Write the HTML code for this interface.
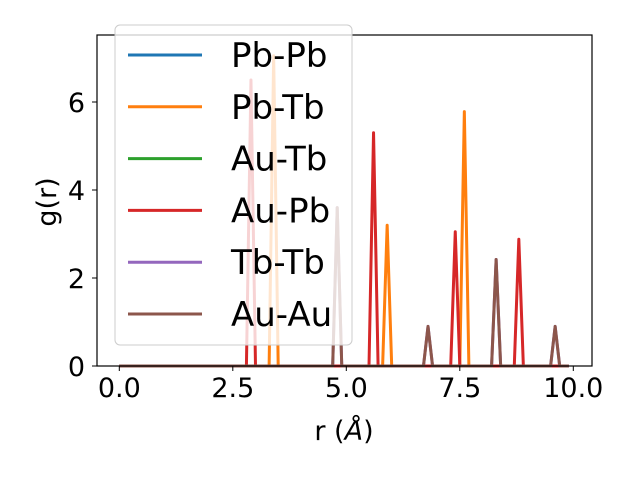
<!DOCTYPE html>
<html><head><meta charset="utf-8"><style>
body{margin:0;background:#fff}
svg{font-family:"DejaVu Sans","Liberation Sans",sans-serif}
</style></head><body>
<svg id="c" width="640" height="480" xmlns="http://www.w3.org/2000/svg"></svg>
<script>
const seriesNames=["Pb-Pb","Pb-Tb","Au-Tb","Au-Pb","Tb-Tb","Au-Au"];
const seriesColors=["#1f77b4","#ff7f0e","#2ca02c","#d62728","#9467bd","#8c564b"];
const peakR_PbPb=[],peakG_PbPb=[];
const peakR_PbTb=[3.4,5.9,7.6],peakG_PbTb=[7.05,3.2,5.78];
const peakR_AuTb=[],peakG_AuTb=[];
const peakR_AuPb=[2.9,5.6,7.4,8.8],peakG_AuPb=[6.5,5.3,3.05,2.88];
const peakR_TbTb=[4.8,6.8,8.3,9.6],peakG_TbTb=[3.6,0.9,2.42,0.9];
const peakR_AuAu=[4.8,6.8,8.3,9.6],peakG_AuAu=[3.6,0.9,2.42,0.9];
const xTicks=[0,2.5,5,7.5,10],xTickLabels=["0.0","2.5","5.0","7.5","10.0"];
const yTicks=[0,2,4,6],yTickLabels=["0","2","4","6"];
const rMin=0,rMax=9.9,rStep=0.1;

const L=97,R=592,T=35,B=366;
const X=r=>119.3+(r-0)*(573.3-119.3)/10;
const Y=g=>366-g*(366-102)/6;
const NS="http://www.w3.org/2000/svg";
const svg=document.getElementById('c');
function mk(t,a,p){const e=document.createElementNS(NS,t);for(const k in a)e.setAttribute(k,a[k]);(p||svg).appendChild(e);return e;}

const peaks=[[peakR_PbPb,peakG_PbPb],[peakR_PbTb,peakG_PbTb],[peakR_AuTb,peakG_AuTb],[peakR_AuPb,peakG_AuPb],[peakR_TbTb,peakG_TbTb],[peakR_AuAu,peakG_AuAu]];
const n=Math.round((rMax-rMin)/rStep);
peaks.forEach((pk,si)=>{
  const pts=[];
  for(let i=0;i<=n;i++){
    const r=rMin+i*rStep;let g=0;
    pk[0].forEach((pr,j)=>{if(Math.abs(pr-r)<1e-6)g=pk[1][j];});
    pts.push(X(r).toFixed(2)+","+Y(g).toFixed(2));
  }
  const pl=mk('polyline',{points:pts.join(" "),fill:"none",stroke:seriesColors[si],"stroke-width":3,"stroke-linejoin":"round"});
  
  
});

const frame=mk('rect',{x:L,y:T,width:R-L,height:B-T,fill:"none",stroke:"#000","stroke-width":1.2});



xTicks.forEach((v,i)=>{
  const x=X(v);
  const tk=mk('line',{x1:x,x2:x,y1:B,y2:B+5,stroke:"#000","stroke-width":1});
  
  
  const t=mk('text',{x:x,y:397,"font-size":27,"text-anchor":"middle"});
  t.textContent=xTickLabels[i];
  
  
});
yTicks.forEach((v,i)=>{
  const y=Y(v);
  const tk=mk('line',{x1:L-5,x2:L,y1:y,y2:y,stroke:"#000","stroke-width":1});
  
  
  const t=mk('text',{x:L-12,y:y+10,"font-size":27,"text-anchor":"end"});
  t.textContent=yTickLabels[i];
  
  
});

const xl=mk('text',{x:344,y:440,"font-size":27,"text-anchor":"middle"});
xl.innerHTML='r (<tspan font-style="italic">Å</tspan>)';


const yl=mk('text',{x:0,y:0,"font-size":27,"text-anchor":"middle",transform:"translate(56,202) rotate(-90)"});
yl.textContent='g(r)';



const lg=mk('g',{});


mk('rect',{x:115,y:25,width:237,height:320,rx:5,fill:"#fff","fill-opacity":0.8,stroke:"#ccc","stroke-width":1},lg);
seriesNames.forEach((s,i)=>{
  const y=55+i*51.8;
  const e=mk('g',{},lg);
  
  
  mk('line',{x1:128,x2:202,y1:y,y2:y,stroke:seriesColors[i],"stroke-width":3},e);
  const t=mk('text',{x:231,y:y+12,"font-size":34},e);
  t.textContent=s;
});
</script>
</body></html>
